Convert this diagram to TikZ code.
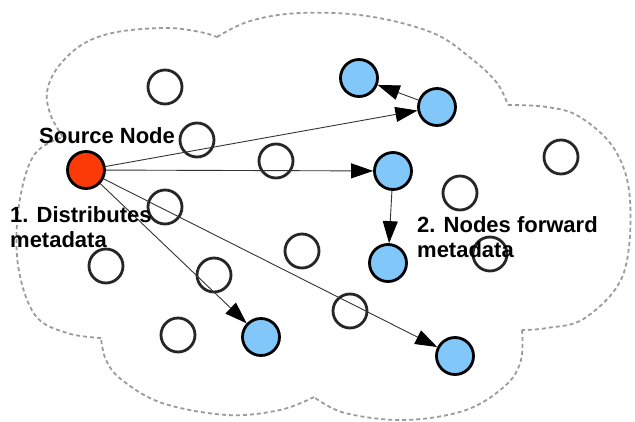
\documentclass[tikz,border=0pt]{standalone}
\usepackage{fontspec}
\setmainfont{Liberation Sans}
\usetikzlibrary{arrows.meta}
\definecolor{reachedblue}{RGB}{130,199,250}
\definecolor{sourcered}{RGB}{252,58,8}
\definecolor{cloudgray}{RGB}{155,155,155}
\begin{document}
\begin{tikzpicture}[x=1pt,y=-1pt,
  peer/.style={circle, draw=black!85, line width=2.8pt, minimum size=34pt, inner sep=0pt},
  reached/.style={circle, draw=black, fill=reachedblue, line width=2.8pt, minimum size=37pt, inner sep=0pt},
  origin/.style={reached, fill=sourcered},
  link/.style={draw=black!80, line width=0.9pt},
  push/.style={link, -{Triangle[length=22pt,width=15pt,black]}},
  caption/.style={font=\bfseries\fontsize{22}{25}\selectfont, align=left, inner sep=0pt, anchor=base west},
  cloud/.style={draw=cloudgray, line width=1.8pt, dash pattern=on 4pt off 3pt}
]
\useasboundingbox (0,0) rectangle (635,421);

% dashed cloud outline, one smooth bump between each pair of notches
\draw[cloud]
  plot[smooth, tension=0.6] coordinates {(63,137) (51,116) (47,92) (58,67) (83,44) (117,32) (167,28) (200,32) (217,37)}
  plot[smooth, tension=0.6] coordinates {(217,37) (250,21) (300,13) (367,16) (433,33) (473,60) (497,83) (508,105)}
  plot[smooth, tension=0.6] coordinates {(508,105) (547,107) (580,117) (615,150) (630,200) (623,275) (585,318) (547,328) (522,330)}
  plot[smooth, tension=0.6] coordinates {(522,330) (521,360) (506,385) (466,410) (405,420) (345,413) (314,397)}
  plot[smooth, tension=0.6] coordinates {(314,397) (280,410) (227,415) (162,403) (122,380) (106,360) (101,338)}
  plot[smooth, tension=0.6] coordinates {(101,338) (67,333) (35,315) (18,265) (19,205) (34,155) (63,137)};

% idle peers
\node[peer] (p1)  at (165,87)  {};
\node[peer] (p2)  at (197,140) {};
\node[peer] (p3)  at (276,161) {};
\node[peer] (p4)  at (165,207) {};
\node[peer] (p5)  at (106,266) {};
\node[peer] (p6)  at (214,275) {};
\node[peer] (p7)  at (302,251) {};
\node[peer] (p8)  at (178,335) {};
\node[peer] (p9)  at (350,311) {};
\node[peer] (p10) at (460,193) {};
\node[peer] (p11) at (490,254) {};
\node[peer] (p12) at (561,157) {};

% peers that receive the metadata
\node[reached] (a) at (359,78)  {};
\node[reached] (b) at (437,107) {};
\node[reached] (c) at (393,171) {};
\node[reached] (d) at (388,263) {};
\node[reached] (e) at (261,337) {};
\node[reached] (f) at (455,356) {};

% source
\node[origin] (src) at (86,170) {};

% first hop
\draw[push] (src) -- (b);
\draw[push] (src) -- (c);
\draw[push] (src) -- (e);
\draw[push] (src) -- (f);
% second hop
\draw[push] (c) -- (d);
\draw[push] (b) -- (a);

% captions (a multi-line node sits on the baseline of its last line)
\node[caption] (tsrc) at (39,143) {Source Node};
\node[caption] (tone) at (10,247) {1. Distributes\\metadata};
\node[caption] (ttwo) at (417,257) {2. Nodes forward\\metadata};
\end{tikzpicture}
\end{document}
